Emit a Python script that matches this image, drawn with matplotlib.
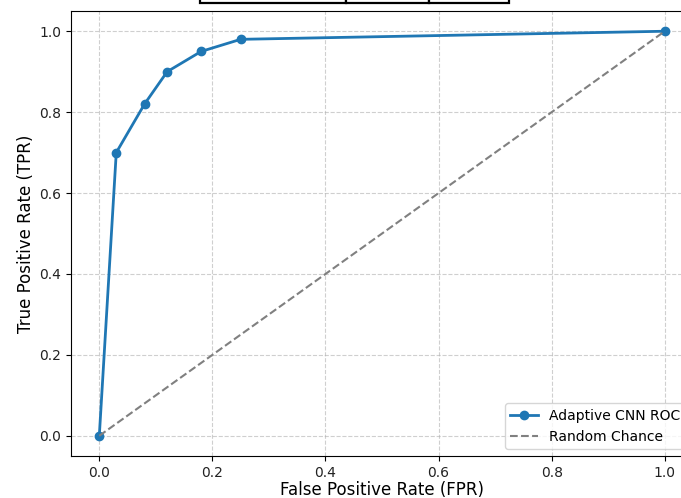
import numpy as np
import matplotlib.pyplot as plt

fpr = [0.0, 0.03, 0.08, 0.12, 0.18, 0.25, 1.0]
tpr = [0.0, 0.70, 0.82, 0.90, 0.95, 0.98, 1.0]
chance = [0.0, 1.0]

fig = plt.figure(figsize=(6.81, 4.98), dpi=100)
ax = fig.add_axes([0.1043, 0.0843, 0.9134, 0.8936])

ax.plot(fpr, tpr, marker='o', color='#1f77b4', lw=2, markersize=6, label='Adaptive CNN ROC')
ax.plot(chance, chance, '--', color='gray', lw=1.5, label='Random Chance')

ax.set_xlim(-0.05, 1.05)
ax.set_ylim(-0.05, 1.05)
ax.set_xticks(np.arange(0, 1.01, 0.2))
ax.set_yticks(np.arange(0, 1.01, 0.2))
ax.tick_params(labelcolor='#222222')
ax.set_xlabel('False Positive Rate (FPR)', fontsize=12, labelpad=1)
ax.set_ylabel('True Positive Rate (TPR)', fontsize=12, labelpad=3)
ax.grid(True, linestyle='--', alpha=0.6)
ax.legend(loc='lower right')

# table sitting above the axes, mostly off the top of the figure
tab = ax.table(cellText=[['', '', '']], colWidths=[146, 83, 80],
               bbox=[0.2074, 1.018, 0.4968, 0.1])
for cell in tab.get_celld().values():
    cell.set_linewidth(1.6)

fig.savefig('out.png', dpi=100)
